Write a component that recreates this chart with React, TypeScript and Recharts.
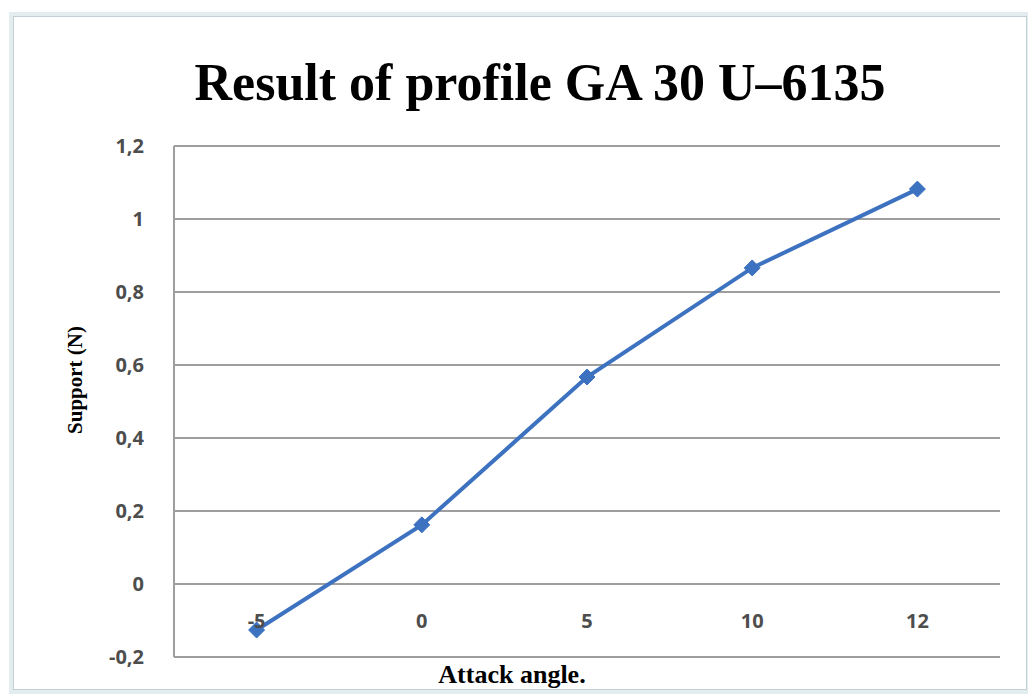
import { LineChart, Line, XAxis, YAxis, CartesianGrid } from "recharts"

const angles = ["-5", "0", "5", "10", "12"]
const support = [-0.126, 0.162, 0.567, 0.866, 1.082]
const yTicks = [-0.2, 0, 0.2, 0.4, 0.6, 0.8, 1, 1.2]

const data = angles.map((a, i) => ({ angle: a, support: support[i] }))

const BLUE = "#3d72c0"
const GRID = "#9e9e9e"
const TICK_FILL = "#4d4d4d"
const TICK_FONT = "'Open Sans', 'Liberation Sans', sans-serif"

function fmtComma(v: number) {
  const r = Math.round(v * 10) / 10
  return r === 0 ? "0" : String(r).replace(".", ",")
}

function Diamond(props: any) {
  const { cx, cy } = props
  if (cx == null || cy == null) return null
  const s = 8
  return (
    <polygon
      points={`${cx},${cy - s} ${cx + s},${cy} ${cx},${cy + s} ${cx - s},${cy}`}
      fill={BLUE}
      stroke={BLUE}
      strokeWidth={1}
    />
  )
}

// Excel puts the category labels next to the axis crossing at 0, not at the bottom
function AngleTick(props: any) {
  const { x, y, payload } = props
  return (
    <text
      x={x}
      y={y - 37}
      textAnchor="middle"
      dominantBaseline="central"
      fill={TICK_FILL}
      style={{ fontSize: 20, fontWeight: 700, fontFamily: TICK_FONT }}
    >
      {payload.value}
    </text>
  )
}

export default function App() {
  return (
    <div style={{ position: "relative", width: 1028, height: 690, background: "#fff" }}>
      <div
        style={{
          position: "absolute",
          left: 1,
          top: 4,
          width: 1012,
          height: 672,
          border: "5px solid #e3ecef",
          outline: "1px solid #c3cfd3",
          outlineOffset: -5,
        }}
      />
      <LineChart
        width={1028}
        height={690}
        data={data}
        margin={{ top: 138, right: 36, bottom: 11, left: 0 }}
        style={{ position: "absolute", left: 0, top: 0 }}
      >
        <CartesianGrid horizontal vertical={false} stroke={GRID} strokeWidth={2} />
        <XAxis
          dataKey="angle"
          type="category"
          height={30}
          axisLine={false}
          tickLine={false}
          tickSize={0}
          tickMargin={0}
          padding={{ left: 82.6, right: 82.6 }}
          tick={<AngleTick />}
          interval={0}
        />
        <YAxis
          width={166}
          domain={[-0.2, 1.2]}
          ticks={yTicks}
          type="number"
          allowDataOverflow
          axisLine={{ stroke: GRID, strokeWidth: 2 }}
          tickLine={false}
          tickSize={0}
          tickMargin={30}
          tickFormatter={fmtComma}
          tick={{ fill: TICK_FILL, fontSize: 20, fontWeight: 700, fontFamily: TICK_FONT }}
        />
        <Line
          type="linear"
          dataKey="support"
          stroke={BLUE}
          strokeWidth={4}
          dot={<Diamond />}
          activeDot={false}
          isAnimationActive={false}
        />
      </LineChart>
      <svg
        width={1028}
        height={690}
        style={{ position: "absolute", left: 0, top: 0, pointerEvents: "none" }}
      >
        <text
          x={532}
          y={92}
          textAnchor="middle"
          style={{ fontFamily: "'Liberation Serif', 'DejaVu Serif', serif", fontWeight: 700, fontSize: 52 }}
        >
          Result of profile GA 30 U–6135
        </text>
        <text
          x={0}
          y={0}
          transform="translate(74,372) rotate(-90)"
          textAnchor="middle"
          style={{ fontFamily: "'Liberation Serif', serif", fontWeight: 700, fontSize: 21 }}
        >
          Support (N)
        </text>
        <text
          x={504}
          y={675}
          textAnchor="middle"
          style={{ fontFamily: "'Liberation Serif', serif", fontWeight: 700, fontSize: 26 }}
        >
          Attack angle.
        </text>
      </svg>
    </div>
  )
}
